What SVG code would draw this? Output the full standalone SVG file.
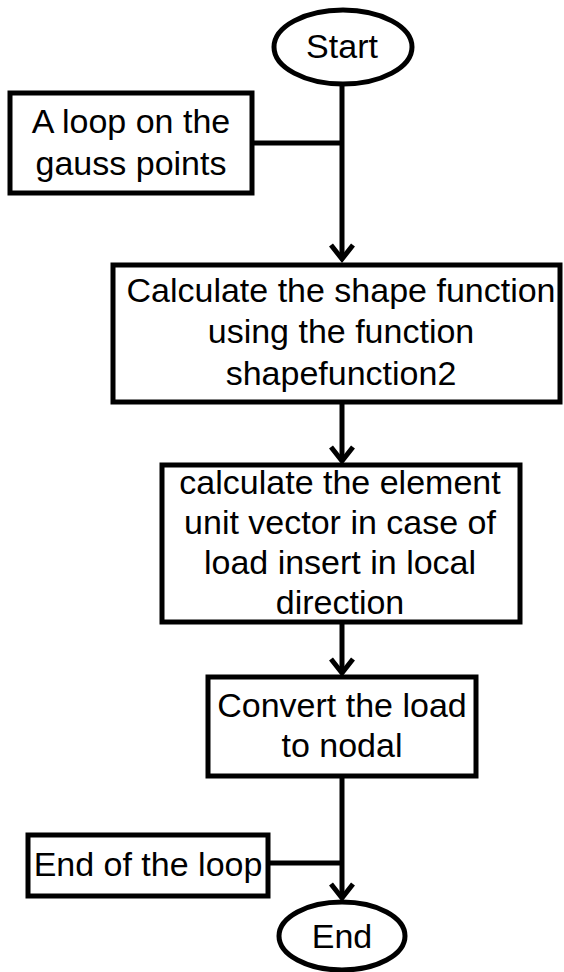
<svg xmlns="http://www.w3.org/2000/svg" width="564" height="972" viewBox="0 0 564 972">
<style>
.box{fill:#fff;stroke:#000;stroke-width:5}
.t{font-family:"Liberation Sans",Arial,sans-serif;font-size:34px;fill:#000;text-anchor:middle}
.c{fill:none;stroke:#000;stroke-width:5}
</style>
<defs>
<marker id="ah" markerUnits="userSpaceOnUse" markerWidth="40" markerHeight="40" viewBox="-20 -20 40 40" refX="0" refY="0" orient="auto" overflow="visible">
<path d="M-14,-11 L0,0 L-14,11" fill="none" stroke="#000" stroke-width="5" stroke-linejoin="miter"/>
</marker>
</defs>
<rect width="564" height="972" fill="#fff"/>
<g id="connectors">
<path class="c" d="M342,85 V259" marker-end="url(#ah)"/>
<path class="c" d="M252,143 H342"/>
<path class="c" d="M342,402 V461" marker-end="url(#ah)"/>
<path class="c" d="M342,622 V673" marker-end="url(#ah)"/>
<path class="c" d="M342,776 V898" marker-end="url(#ah)"/>
<path class="c" d="M268,863 H342"/>
</g>
<g id="start">
<ellipse class="box" cx="343" cy="47" rx="69" ry="37"/>
<text class="t" x="342" y="58">Start</text>
</g>
<g id="loop">
<rect class="box" x="10" y="93" width="242" height="100"/>
<text class="t" x="131" y="133">A loop on the</text>
<text class="t" x="131" y="175">gauss points</text>
</g>
<g id="shape">
<rect class="box" x="113" y="265" width="447" height="137"/>
<text class="t" x="341" y="302">Calculate the shape function</text>
<text class="t" x="341" y="343">using the function</text>
<text class="t" x="341" y="385">shapefunction2</text>
</g>
<g id="unitvector">
<rect class="box" x="162" y="465" width="358" height="157"/>
<text class="t" x="340" y="494">calculate the element</text>
<text class="t" x="340" y="534">unit vector in case of</text>
<text class="t" x="340" y="574">load insert in local</text>
<text class="t" x="340" y="614">direction</text>
</g>
<g id="convert">
<rect class="box" x="208" y="677" width="268" height="99"/>
<text class="t" x="342" y="717">Convert the load</text>
<text class="t" x="342" y="757">to nodal</text>
</g>
<g id="endloop">
<rect class="box" x="28" y="835" width="240" height="61"/>
<text class="t" x="148" y="876">End of the loop</text>
</g>
<g id="end">
<ellipse class="box" cx="342" cy="936" rx="63" ry="34"/>
<text class="t" x="342" y="948">End</text>
</g>
</svg>
